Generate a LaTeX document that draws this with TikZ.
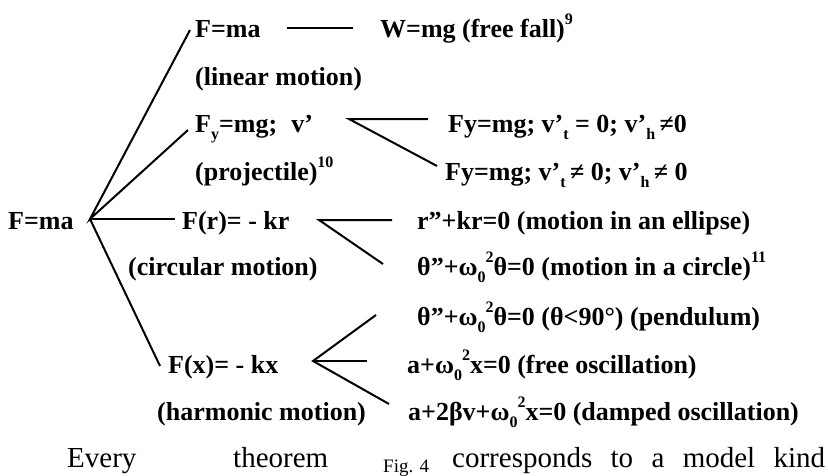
\documentclass[tikz,border=0pt]{standalone}
\usepackage{fontspec}
\setmainfont{Liberation Serif}
\newcommand{\mysub}[1]{\raisebox{-0.28em}{\fontsize{16}{16}\selectfont #1}}
\newcommand{\mysup}[1]{\raisebox{0.5em}{\fontsize{16}{16}\selectfont #1}}
\begin{document}
\begin{tikzpicture}[x=1pt,y=-1pt,
  lbl/.style={anchor=base west,inner sep=0pt,font=\fontsize{26}{30}\selectfont\bfseries},
  plain/.style={anchor=base west,inner sep=0pt,font=\fontsize{29}{33}\selectfont},
  small/.style={anchor=base west,inner sep=0pt,font=\fontsize{19}{22}\selectfont},
  conn/.style={line width=2pt}]
\useasboundingbox (0,0) rectangle (828,475);

% text nodes
\node[lbl] (fma1) at (195,37) {F=ma};
\node[lbl] (wmg) at (380,37) {W=mg (free fall)\mysup{9}};
\node[lbl] (lin) at (195,85) {(linear motion)};
\node[lbl] (fy) at (195,132) {F\mysub{y}=mg;\hspace{0.55em}v’};
\node[lbl] (p1) at (448,132) {Fy=mg; v’\mysub{t} = 0; v’\mysub{h}\,≠0};
\node[lbl] (proj) at (195,180) {(projectile)\mysup{10}};
\node[lbl] (p2) at (445,180) {Fy=mg; v’\mysub{t}\,≠ 0; v’\mysub{h}\,≠ 0};
\node[lbl] (fma) at (8,229) {F=ma};
\node[lbl] (fr) at (182,229) {F(r)= - kr};
\node[lbl] (ell) at (417,229) {r”+kr=0 (motion in an ellipse)};
\node[lbl] (circ) at (128,275) {(circular motion)};
\node[lbl] (cir) at (417,275) {θ”+ω\mysub{0}\mysup{2}θ=0 (motion in a circle)\mysup{11}};
\node[lbl] (pend) at (417,325) {θ”+ω\mysub{0}\mysup{2}θ=0 (θ<90°) (pendulum)};
\node[lbl] (fx) at (168,373) {F(x)= - kx};
\node[lbl] (free) at (407,373) {a+ω\mysub{0}\mysup{2}x=0 (free oscillation)};
\node[lbl] (harm) at (157,420) {(harmonic motion)};
\node[lbl] (damp) at (408,420) {a+2βv+ω\mysub{0}\mysup{2}x=0 (damped oscillation)};
\node[plain] (every) at (67,467) {Every};
\node[plain] (theorem) at (233,467) {theorem};
\node[small] (fig) at (383,472) {Fig. 4};
\node[plain,text width=373pt,align=left] (corr) at (452,467) {corresponds\hfill to\hfill a\hfill model\hfill kind};

% connector points
\coordinate (a0) at (90,219);
\coordinate (e1) at (190,30);
\coordinate (e2) at (188,130);
\coordinate (e3) at (175,219);
\coordinate (e4) at (160,366);
\coordinate (h1) at (287,28);
\coordinate (h2) at (353,28);
\coordinate (av) at (349,119);
\coordinate (v1) at (428,119);
\coordinate (v2) at (437,166);
\coordinate (ar) at (319,220);
\coordinate (r1) at (392,220);
\coordinate (r2) at (383,264);
\coordinate (ax) at (313,361);
\coordinate (x1) at (376,315);
\coordinate (x2) at (367,361);
\coordinate (x3) at (389,404);

\draw[conn] (e1) -- (a0) -- (e2);
\draw[conn] (a0) -- (e3);
\draw[conn] (a0) -- (e4);
\draw[conn] (h1) -- (h2);
\draw[conn] (v1) -- (av) -- (v2);
\draw[conn] (r1) -- (ar) -- (r2);
\draw[conn] (x1) -- (ax) -- (x3);
\draw[conn] (ax) -- (x2);
\end{tikzpicture}
\end{document}
